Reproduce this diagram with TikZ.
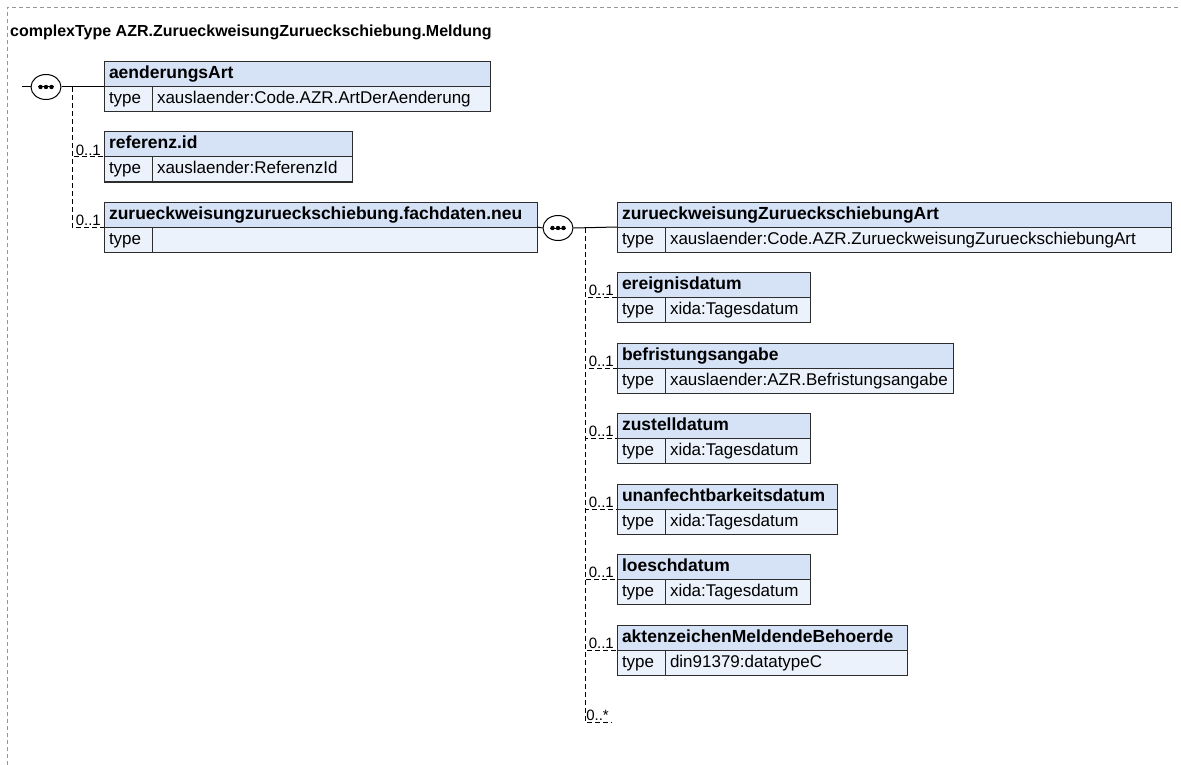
\documentclass[tikz,border=0pt]{standalone}
\usepackage{fontspec}
\setmainfont{Liberation Sans}
\usepackage{xcolor}
\usepackage{tikz}
\usetikzlibrary{positioning,calc,shapes.geometric}

\definecolor{hdfill}{RGB}{214,226,246}
\definecolor{rowfill}{RGB}{235,242,252}
\definecolor{boxline}{RGB}{45,45,45}
\definecolor{framegray}{RGB}{150,150,150}

\begin{document}
\begin{tikzpicture}[x=1pt, y=-1pt,
    hd/.style={draw=boxline, fill=hdfill, line width=1pt, anchor=north west, minimum height=25pt, inner xsep=5pt, inner ysep=0pt, outer sep=0pt, text height=12.5pt, text depth=3.5pt, align=left, font=\fontsize{17.5}{20}\selectfont\bfseries},
    tc/.style={draw=boxline, fill=rowfill, line width=1pt, anchor=north west, minimum height=25pt, text width=38pt, inner xsep=5pt, inner ysep=0pt, outer sep=0pt, text height=12.5pt, text depth=3.5pt, align=left, font=\fontsize{17}{20}\selectfont},
    tv/.style={tc, text width=#1},
    seq/.style={draw=black, fill=white, line width=1pt, ellipse, minimum width=30pt, minimum height=25pt, inner sep=0pt},
    conn/.style={draw=black, line width=1pt},
    opt/.style={draw=black, line width=1pt, dash pattern=on 5pt off 3pt},
    card/.style={font=\fontsize{15}{17}\selectfont, inner sep=1pt, anchor=south east}
]
\useasboundingbox (0,0) rectangle (1181,765);
\draw[framegray, line width=0.8pt, dash pattern=on 4pt off 3pt] (7,765) -- (7,7) -- (1181,7);
\node[anchor=west, inner sep=0pt, font=\fontsize{16}{19}\selectfont\bfseries] (title) at (10,32) {complexType AZR.ZurueckweisungZurueckschiebung.Meldung};

% left sequence
\node[hd, text width=376pt] (aend) at (104,62) {aenderungsArt};
\node[tc] (aend-t) at (aend.south west) {type};
\node[tv=328pt] (aend-v) at (aend-t.north east) {xauslaender:Code.AZR.ArtDerAenderung};

\node[hd, text width=238pt] (refid) at (104,132) {referenz.id};
\node[tc] (refid-t) at (refid.south west) {type};
\node[tv=190pt] (refid-v) at (refid-t.north east) {xauslaender:ReferenzId};

\node[hd, text width=423pt] (fach) at (104,202) {zurueckweisungzurueckschiebung.fachdaten.neu};
\node[tc] (fach-t) at (fach.south west) {type};
\node[tv=375pt] (fach-v) at (fach-t.north east) {};

\coordinate (in) at (22,87);
\node[seq] (s1) at (46,87) {};
\draw[line width=1pt] ([xshift=-8]s1.center) -- ([xshift=8]s1.center);
\fill (s1.center) circle (2.2) ([xshift=-5.5]s1.center) circle (2.2) ([xshift=5.5]s1.center) circle (2.2);
\coordinate (b1) at (72,87);
\draw[conn] (in) -- (s1.west);
\draw[conn] (s1.east) -- (aend.south west);
\draw[opt] (b1) |- (refid.south west);
\draw[opt] (b1) |- (fach.south west);
\node[card] (c1) at ([xshift=-2]refid.south west) {0..1};
\node[card] (c2) at ([xshift=-2]fach.south west) {0..1};

% right sequence
\node[hd, text width=544pt] (zart) at (617,202) {zurueckweisungZurueckschiebungArt};
\node[tc] (zart-t) at (zart.south west) {type};
\node[tv=496pt] (zart-v) at (zart-t.north east) {xauslaender:Code.AZR.ZurueckweisungZurueckschiebungArt};

\node[hd, text width=183pt] (ereig) at (617,272) {ereignisdatum};
\node[tc] (ereig-t) at (ereig.south west) {type};
\node[tv=135pt] (ereig-v) at (ereig-t.north east) {xida:Tagesdatum};

\node[hd, text width=326pt] (befr) at (617,343) {befristungsangabe};
\node[tc] (befr-t) at (befr.south west) {type};
\node[tv=278pt] (befr-v) at (befr-t.north east) {xauslaender:AZR.Befristungsangabe};

\node[hd, text width=183pt] (zust) at (617,413) {zustelldatum};
\node[tc] (zust-t) at (zust.south west) {type};
\node[tv=135pt] (zust-v) at (zust-t.north east) {xida:Tagesdatum};

\node[hd, text width=210pt] (unanf) at (617,484) {unanfechtbarkeitsdatum};
\node[tc] (unanf-t) at (unanf.south west) {type};
\node[tv=162pt] (unanf-v) at (unanf-t.north east) {xida:Tagesdatum};

\node[hd, text width=183pt] (loesch) at (617,554) {loeschdatum};
\node[tc] (loesch-t) at (loesch.south west) {type};
\node[tv=135pt] (loesch-v) at (loesch-t.north east) {xida:Tagesdatum};

\node[hd, text width=280pt] (akten) at (617,625) {aktenzeichenMeldendeBehoerde};
\node[tc] (akten-t) at (akten.south west) {type};
\node[tv=232pt] (akten-v) at (akten-t.north east) {din91379:datatypeC};

\node[seq] (s2) at (558,228) {};
\draw[line width=1pt] ([xshift=-8]s2.center) -- ([xshift=8]s2.center);
\fill (s2.center) circle (2.2) ([xshift=-5.5]s2.center) circle (2.2) ([xshift=5.5]s2.center) circle (2.2);
\coordinate (b2) at (585,228);
\coordinate (any) at (612,722);
\draw[conn] (fach.south east) -- (s2.west);
\draw[conn] (s2.east) -- (zart.south west);
\foreach \e in {ereig,befr,zust,unanf,loesch,akten} {
  \draw[opt] (b2) |- (\e.south west);
  \node[card] (c-\e) at ([xshift=-2]\e.south west) {0..1};
}
\draw[opt] (b2) |- (any);
\node[card] (c-any) at ([xshift=-2]any) {0..*};
\end{tikzpicture}
\end{document}
